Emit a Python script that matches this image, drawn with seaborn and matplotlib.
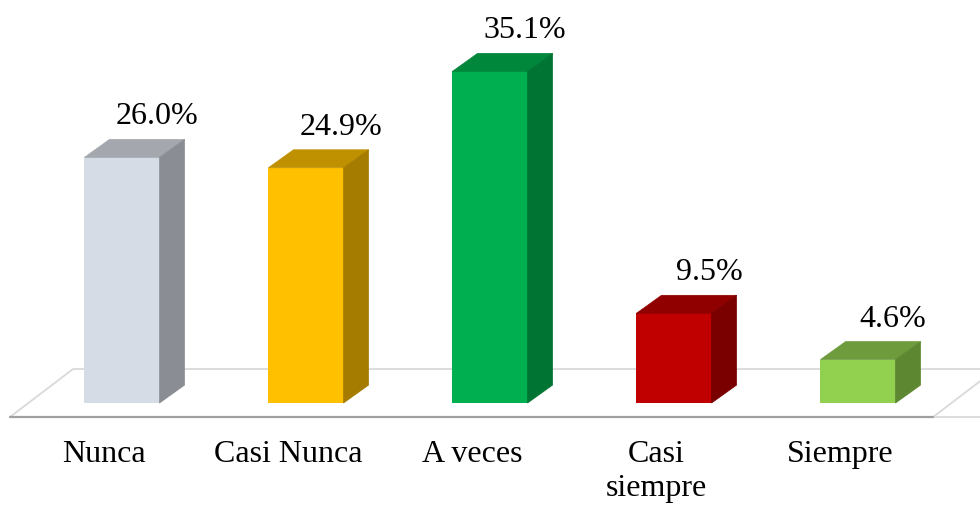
import matplotlib
matplotlib.use("Agg")
import matplotlib.pyplot as plt
from matplotlib.patches import Polygon
import seaborn as sns

categories = ["Nunca", "Casi Nunca", "A veces", "Casi\nsiempre", "Siempre"]
values = [26.0, 24.9, 35.1, 9.5, 4.6]
labels = ["26.0%", "24.9%", "35.1%", "9.5%", "4.6%"]
front_colors = ["#D6DCE5", "#FFC000", "#00B050", "#C00000", "#92D050"]
top_colors = ["#A4A8AE", "#BF9000", "#00873C", "#900000", "#6E9C3C"]
side_colors = ["#8A8E94", "#A57C00", "#007433", "#7A0000", "#5E8732"]

sns.set_style("white")
plt.rcParams["font.family"] = ["Liberation Serif", "DejaVu Serif"]

fig = plt.figure(figsize=(9.8, 5.07), dpi=100)
ax = fig.add_axes([0, 0, 1, 1])

df_cats = categories
sns.barplot(x=df_cats, y=values, hue=df_cats, palette=front_colors,
            width=0.408, legend=False, ax=ax, saturation=1, zorder=3,
            edgecolor="none", linewidth=0)

ax.set_xlim(-0.663, 4.663)
ax.set_ylim(-11.0, 42.65)
ax.axis("off")

# depth of the fake 3d boxes
dx, dy = 0.136, 1.9

# floor
fl = [(-0.609, -1.48), (-0.266, 3.6), (5.5, 3.6), (4.75, -1.48)]
ax.add_patch(Polygon(fl, closed=True, facecolor="white", edgecolor="#D9D9D9",
                     lw=1.3, zorder=1))
ax.plot([-0.609, 4.408], [-1.48, -1.48], color="#A0A0A0", lw=1.6, zorder=2)
ax.add_patch(Polygon([(4.408, -1.48), (4.75, -1.48), (5.5, 3.6), (5.5, -1.48)],
                     closed=True, facecolor="white", edgecolor="none", zorder=1.5))
ax.plot([4.408, 4.408 + 0.342 * 1.6], [-1.48, -1.48 + 5.08 * 1.6],
        color="#D9D9D9", lw=1.3, zorder=1.6)

for i, bar in enumerate(ax.patches[:len(values)]):
    x0 = bar.get_x()
    w = bar.get_width()
    h = bar.get_height()
    x1 = x0 + w
    top = [(x0, h), (x1, h), (x1 + dx, h + dy), (x0 + dx, h + dy)]
    side = [(x1, 0), (x1 + dx, dy), (x1 + dx, h + dy), (x1, h)]
    ax.add_patch(Polygon(top, closed=True, facecolor=top_colors[i],
                         edgecolor=top_colors[i], lw=0.5, zorder=3))
    ax.add_patch(Polygon(side, closed=True, facecolor=side_colors[i],
                         edgecolor=side_colors[i], lw=0.5, zorder=3))
    cx = x0 + w / 2
    ax.text(cx + 0.19, h + dy + 1.6, labels[i], ha="center", va="baseline",
            fontsize=23, color="black", zorder=4)
    ax.text(cx - 0.098, -3.9, categories[i], ha="center", va="top",
            fontsize=23, linespacing=1.25, color="black", zorder=4)

fig.savefig("out.png", dpi=100)
